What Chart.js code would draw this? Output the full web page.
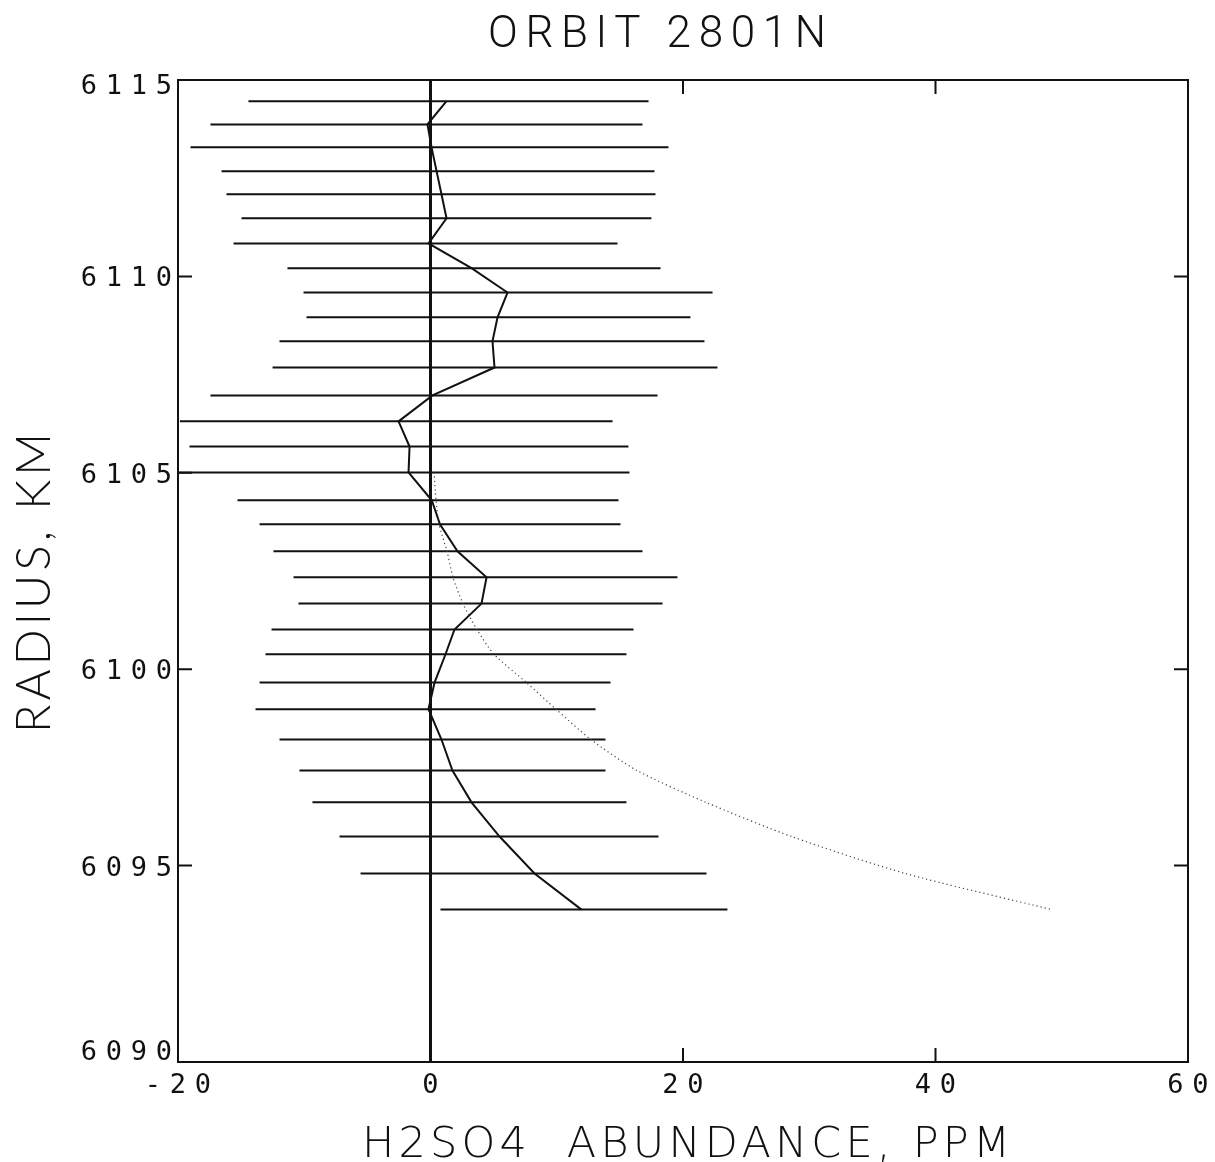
<!DOCTYPE html>
<html>
<head>
<meta charset="utf-8">
<title>ORBIT 2801N</title>
<script src="https://cdn.jsdelivr.net/npm/chart.js@4/dist/chart.umd.min.js"></script>
<style>
  html, body { margin: 0; padding: 0; background: #fff; }
  #wrap { width: 1215px; height: 1162px; }
  canvas { display: block; }
</style>
</head>
<body>
<div id="wrap"><canvas id="c" width="1215" height="1162"></canvas></div>
<script>
// Retrieved H2SO4 abundance profile, one entry per tangent radius
const radiusKm = [6114.46, 6113.87, 6113.29, 6112.68, 6112.09, 6111.48, 6110.84, 6110.21,
                  6109.59, 6108.96, 6108.35, 6107.68, 6106.97, 6106.31, 6105.67, 6105.01,
                  6104.30, 6103.69, 6103.00, 6102.34, 6101.67, 6101.01, 6100.38, 6099.66,
                  6098.98, 6098.21, 6097.42, 6096.61, 6095.74, 6094.80, 6093.88];
const h2so4Ppm = [1.27, -0.24, 0.08, 0.48, 0.87, 1.27, -0.16, 3.25,
                  6.10, 5.31, 4.91, 5.07, 0.16, -2.53, -1.66, -1.74,
                  0.10, 0.75, 2.14, 4.44, 4.04, 1.90, 1.19, 0.32,
                  -0.16, 0.87, 1.74, 3.25, 5.47, 8.24, 11.96];
// Lower and upper ends of each uncertainty bar (ppm)
const errLow  = [-14.42, -17.43, -19.01, -16.55, -16.16, -14.97, -15.60, -11.33,
                 -10.06, -9.82, -11.96, -12.51, -17.43, -19.85, -19.09, -19.95,
                 -15.29, -13.54, -12.44, -10.85, -10.46, -12.59, -13.07, -13.54,
                 -13.86, -11.96, -10.38, -9.35, -7.21, -5.54, 0.79];
const errHigh = [17.27, 16.79, 18.85, 17.74, 17.82, 17.50, 14.81, 18.22,
                 22.34, 20.59, 21.70, 22.73, 17.98, 14.42, 15.68, 15.76,
                 14.89, 15.05, 16.79, 19.56, 18.38, 16.08, 15.52, 14.26,
                 13.07, 13.86, 13.86, 15.52, 18.06, 21.86, 23.52];
// Dotted comparison profile
const refRadiusKm = [6105.01, 6104.30, 6103.69, 6103.00, 6102.34, 6101.67, 6101.01, 6100.38,
                     6099.66, 6098.98, 6098.21, 6097.42, 6096.61, 6095.74, 6094.80, 6093.88];
const refPpm = [0.28, 0.44, 0.67, 1.31, 1.78, 2.57, 3.68, 5.03,
                7.60, 9.94, 12.71, 16.36, 21.82, 28.60, 37.60, 49.20];

// Axes
const xTickValues = [-20, 0, 20, 40, 60];
const yTickValues = [6090, 6095, 6100, 6105, 6110, 6115];
const leftTickMarks = [6095, 6100, 6105, 6110];
const rightTickMarks = [6095, 6100, 6110];
const topTickMarks = [20, 40];
const bottomTickMarks = [20, 40];
const titleText = 'ORBIT 2801N';
const xTitleText = 'H2SO4  ABUNDANCE, PPM';
const yTitleText = 'RADIUS, KM';

const INK = '#111';

const datasets = [];
radiusKm.forEach((r, i) => {
  datasets.push({
    data: [{ x: errLow[i], y: r }, { x: errHigh[i], y: r }],
    showLine: true, borderColor: INK, borderWidth: 2, pointRadius: 0, order: 3
  });
});
datasets.push({
  data: [{ x: 0, y: 6090 }, { x: 0, y: 6115 }],
  showLine: true, borderColor: INK, borderWidth: 3, pointRadius: 0, order: 2
});
datasets.push({
  data: radiusKm.map((r, i) => ({ x: h2so4Ppm[i], y: r })),
  showLine: true, borderColor: INK, borderWidth: 2, pointRadius: 0, tension: 0, order: 1
});
datasets.push({
  data: refRadiusKm.map((r, i) => ({ x: refPpm[i], y: r })),
  showLine: true, borderColor: '#444', borderWidth: 1.2, borderDash: [1.2, 3],
  pointRadius: 0, tension: 0.25, order: 0
});

function spacedText(ctx, str, font, x0, y, inkWidth) {
  ctx.font = font;
  ctx.letterSpacing = '0px';
  const w = ctx.measureText(str).width;
  const s = str.length > 1 ? (inkWidth - w) / (str.length - 1) : 0;
  ctx.letterSpacing = s + 'px';
  ctx.textAlign = 'left';
  ctx.textBaseline = 'alphabetic';
  ctx.fillText(str, x0, y);
  ctx.letterSpacing = '0px';
}

function pitchText(ctx, str, font, x0, y, pitch) {
  ctx.font = font;
  ctx.letterSpacing = '0px';
  const adv = ctx.measureText('0').width;
  ctx.letterSpacing = (pitch - adv) + 'px';
  ctx.textAlign = 'left';
  ctx.textBaseline = 'alphabetic';
  ctx.fillText(str, x0, y);
  ctx.letterSpacing = '0px';
  return adv;
}

const framePlugin = {
  id: 'frame',
  afterDatasetsDraw(chart) {
    const { ctx, chartArea: a, scales: { x, y } } = chart;
    const T = 14;
    ctx.save();
    ctx.strokeStyle = INK;
    ctx.lineWidth = 2;
    ctx.strokeRect(a.left, a.top, a.right - a.left, a.bottom - a.top);
    ctx.beginPath();
    leftTickMarks.forEach(v => { const p = y.getPixelForValue(v); ctx.moveTo(a.left, p); ctx.lineTo(a.left + T, p); });
    rightTickMarks.forEach(v => { const p = y.getPixelForValue(v); ctx.moveTo(a.right, p); ctx.lineTo(a.right - T, p); });
    topTickMarks.forEach(v => { const p = x.getPixelForValue(v); ctx.moveTo(p, a.top); ctx.lineTo(p, a.top + T); });
    bottomTickMarks.forEach(v => { const p = x.getPixelForValue(v); ctx.moveTo(p, a.bottom); ctx.lineTo(p, a.bottom - T); });
    ctx.stroke();
    ctx.restore();
  },
  afterDraw(chart) {
    const { ctx, chartArea: a, scales: { x, y } } = chart;
    ctx.save();
    ctx.fillStyle = INK;
    const tickFont = '27px "DejaVu Sans Mono"';
    const pitch = 25;
    // radius tick labels, right-aligned to the left of the frame
    yTickValues.forEach(v => {
      const s = String(v);
      ctx.font = tickFont;
      const adv = ctx.measureText('0').width;
      const w = (s.length - 1) * pitch + adv;
      let cy = y.getPixelForValue(v);
      if (v === y.max) cy += 4;
      if (v === y.min) cy -= 12;
      pitchText(ctx, s, tickFont, a.left - 6 - w, cy + 10, pitch);
    });
    // abundance tick labels, centred below the frame
    xTickValues.forEach(v => {
      const s = String(v);
      ctx.font = tickFont;
      const adv = ctx.measureText('0').width;
      const w = (s.length - 1) * pitch + adv;
      const cx = x.getPixelForValue(v);
      pitchText(ctx, s, tickFont, cx - w / 2, a.bottom + 31, pitch);
    });
    // titles
    spacedText(ctx, titleText, '300 44px Roboto', 488, 47, 338);
    spacedText(ctx, xTitleText, '200 43px "DejaVu Sans"', 362, 1157, 648);
    ctx.save();
    ctx.translate(50, 733);
    ctx.rotate(-Math.PI / 2);
    spacedText(ctx, yTitleText, '300 47px Lato', 0, 0, 300);
    ctx.restore();
    ctx.restore();
  }
};

new Chart(document.getElementById('c'), {
  type: 'scatter',
  data: { datasets },
  options: {
    responsive: false,
    devicePixelRatio: 1,
    animation: false,
    layout: { padding: { left: 178, right: 27, top: 80, bottom: 100 } },
    scales: {
      x: { type: 'linear', min: -20, max: 60, display: false },
      y: { type: 'linear', min: 6090, max: 6115, display: false }
    },
    plugins: { legend: { display: false }, tooltip: { enabled: false } },
    events: []
  },
  plugins: [framePlugin]
});
</script>
</body>
</html>
